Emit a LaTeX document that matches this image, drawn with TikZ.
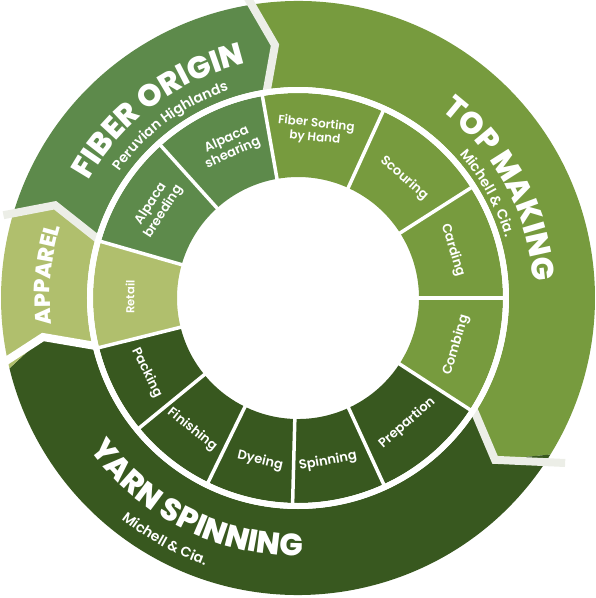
\documentclass[tikz,border=0pt]{standalone}
\usepackage{fontspec}
\setmainfont{Poppins}
\newfontfamily\heavyfont{Poppins ExtraBold}
\newfontfamily\semifont{Poppins SemiBold}
\usepackage{tikz}
\usetikzlibrary{decorations.text}
\definecolor{origincolor}{RGB}{93,138,75}
\definecolor{topcolor}{RGB}{119,155,62}
\definecolor{yarncolor}{RGB}{56,88,31}
\definecolor{apparelcolor}{RGB}{176,191,109}
\definecolor{gapcolor}{RGB}{236,238,231}
\newcommand{\ringsector}[4]{(#1:#3) arc[start angle=#1, end angle=#2, radius=#3] -- (#2:#4) arc[start angle=#2, end angle=#1, radius=#4] -- cycle}

\begin{document}
\begin{tikzpicture}[
    stage/.style={text=white, font=\semifont\fontsize{13}{15}\selectfont, align=center, inner sep=0pt},
    divider/.style={white, line width=3.5pt},
    notch/.style={gapcolor, line width=8pt, line join=miter},
    ringgap/.style={white, line width=6pt}
]
\useasboundingbox (-298pt,-300pt) rectangle (298pt,298pt);

% Outer ring
\fill[origincolor] (164:297pt) arc[start angle=164, end angle=99, radius=297pt] -- (95.2:254pt) -- (99:211pt) arc[start angle=99, end angle=164, radius=211pt] -- (159.1:260pt) -- cycle;
\fill[topcolor] (99:297pt) arc[start angle=99, end angle=-31.8, radius=297pt] -- (-39.4:255pt) -- (-31.8:211pt) arc[start angle=-31.8, end angle=99, radius=211pt] -- (95.2:254pt) -- cycle;
\fill[yarncolor] (-31.8:297pt) arc[start angle=-31.8, end angle=-166.3, radius=297pt] -- (-171.3:258pt) -- (-166.3:211pt) arc[start angle=-166.3, end angle=-31.8, radius=211pt] -- (-39.4:255pt) -- cycle;
\fill[apparelcolor] (193.7:297pt) arc[start angle=193.7, end angle=164, radius=297pt] -- (159.1:260pt) -- (164:211pt) arc[start angle=164, end angle=193.7, radius=211pt] -- (188.7:258pt) -- cycle;

% Chevrons between stages
\draw[notch] (99:205pt) -- (95.2:254pt) -- (99.5:304pt);
\draw[notch] (-31.8:205pt) -- (-39.4:255pt) -- (-31.7:314pt);
\draw[notch, white] (-166.3:205pt) -- (-171.3:258pt) -- (-167.3:306pt);
\draw[notch] (164:205pt) -- (159.1:260pt) -- (164.3:306pt);

% Inner ring
\fill[topcolor] \ringsector{-33}{100}{121pt}{205pt};
\fill[yarncolor] \ringsector{-166}{-33}{121pt}{205pt};
\fill[apparelcolor] \ringsector{164}{194}{121pt}{205pt};
\fill[origincolor] \ringsector{100}{164}{121pt}{205pt};
\draw[ringgap] (0,0) circle[radius=208pt];
\foreach \a in {100,65.5,32.5,0,-33,-65.3,-91.5,-116,-140.7,-166,164,132}
  \draw[divider] (\a:117pt) -- (\a:208pt);

% Steps
\node[stage, font=\semifont\fontsize{12}{14}\selectfont, rotate=-6] (sorting) at (84:168pt) {Fiber Sorting\\by Hand};
\node[stage, rotate=-41.5] (scouring) at (48.5:160pt) {Scouring};
\node[stage, rotate=-72.8] (carding) at (17.2:162pt) {Carding};
\node[stage, rotate=73.4] (combing) at (-16.6:165pt) {Combing};
\node[stage, rotate=41] (prep) at (-48.9:166pt) {Prepartion};
\node[stage, rotate=10.4] (spinning) at (-79.6:166pt) {Spinning};
\node[stage, rotate=-13.1] (dyeing) at (-103.1:167pt) {Dyeing};
\node[stage, rotate=-38.8] (finishing) at (-128.8:169pt) {Finishing};
\node[stage, rotate=-63.6] (packing) at (-153.6:169pt) {Packing};
\node[stage, font=\semifont\fontsize{11.5}{13}\selectfont, rotate=89.7] (retail) at (179.7:168pt) {Retail};
\node[stage, rotate=57.4] (breeding) at (147.4:167pt) {Alpaca\\breeding};
\node[stage, rotate=24.2] (shearing) at (114.2:166pt) {Alpaca\\shearing};

% Stage titles
\path[decorate, decoration={text along path, text align=center, text color=white, text={|\heavyfont\fontsize{31}{31}\selectfont|FIBER ORIGIN}}] (166.7:240pt) arc[start angle=166.7, end angle=86.7, radius=240pt];
\path[decorate, decoration={text along path, text align=center, text color=white, text={|\semifont\fontsize{14}{14}\selectfont|Peruvian Highlands}}] (156.6:219pt) arc[start angle=156.6, end angle=96.6, radius=219pt];
\path[decorate, decoration={text along path, text align=center, text color=white, text={|\heavyfont\fontsize{31}{31}\selectfont|TOP MAKING}}] (68.3:236pt) arc[start angle=68.3, end angle=-11.7, radius=236pt];
\path[decorate, decoration={text along path, text align=center, text color=white, text={|\semifont\fontsize{14}{14}\selectfont|Michell {\&} Cia.}}] (59:216pt) arc[start angle=59, end angle=-1, radius=216pt];
\path[decorate, decoration={text along path, text align=center, text color=white, text={|\heavyfont\fontsize{31}{31}\selectfont|YARN SPINNING}}] (-156.5:258pt) arc[start angle=-156.5, end angle=-76.5, radius=258pt];
\path[decorate, decoration={text along path, text align=center, text color=white, text={|\semifont\fontsize{14}{14}\selectfont|Michell {\&} Cia.}}] (-143.9:283pt) arc[start angle=-143.9, end angle=-93.9, radius=283pt];
\path[decorate, decoration={text along path, text align=center, text color=white, text={|\heavyfont\fontsize{22}{22}\selectfont|APPAREL}}] (194.7:248pt) arc[start angle=194.7, end angle=154.7, radius=248pt];

\end{tikzpicture}
\end{document}
